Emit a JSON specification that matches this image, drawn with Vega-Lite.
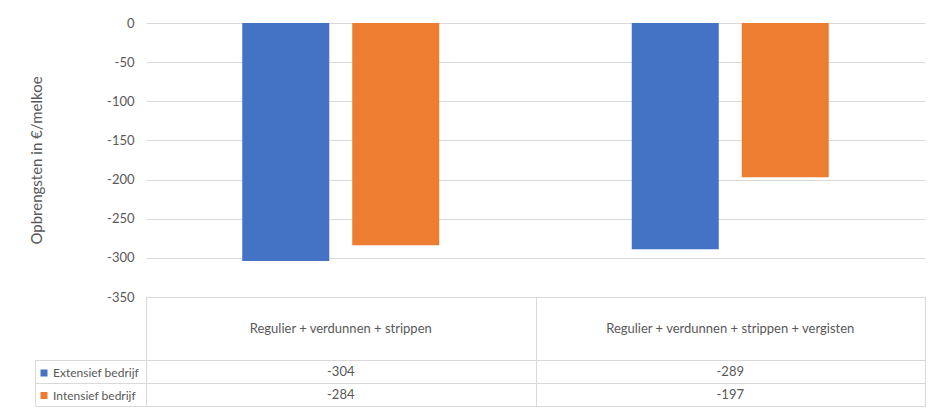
{
  "$schema": "https://vega.github.io/schema/vega-lite/v6.json",
  "padding": {"left": 29, "top": 17, "right": 0, "bottom": 0},
  "autosize": {"type": "pad"},
  "background": "white",
  "bounds": "flush",
  "config": {
    "font": "Lato",
    "locale": {"number": {"decimal": ",", "thousands": ".", "grouping": [3], "currency": ["€", ""], "minus": "-"}},
    "view": {"stroke": null},
    "axis": {"labelColor": "#595959", "titleColor": "#595959", "labelFont": "Lato", "titleFont": "Lato", "labelFontSize": 13},
    "text": {"color": "#595959", "font": "Lato", "fontSize": 13}
  },
  "datasets": {
    "opbrengsten": [
      {"scenario": "Regulier + verdunnen + strippen", "bedrijf": "Extensief bedrijf", "opbrengst": -304},
      {"scenario": "Regulier + verdunnen + strippen", "bedrijf": "Intensief bedrijf", "opbrengst": -284},
      {"scenario": "Regulier + verdunnen + strippen + vergisten", "bedrijf": "Extensief bedrijf", "opbrengst": -289},
      {"scenario": "Regulier + verdunnen + strippen + vergisten", "bedrijf": "Intensief bedrijf", "opbrengst": -197}
    ]
  },
  "spacing": 0,
  "vconcat": [
    {
      "width": 779,
      "height": 274,
      "data": {"name": "opbrengsten"},
      "mark": {"type": "bar"},
      "encoding": {
        "x": {"field": "scenario", "type": "nominal", "sort": null, "scale": {"paddingInner": 0, "paddingOuter": 0}, "axis": null},
        "xOffset": {"field": "bedrijf", "type": "nominal", "sort": null, "scale": {"paddingInner": 0.209, "paddingOuter": 0.875}},
        "y": {
          "field": "opbrengst", "type": "quantitative",
          "scale": {"domain": [-350, 0], "nice": false},
          "axis": {
            "values": [0, -50, -100, -150, -200, -250, -300, -350],
            "title": "Opbrengsten in €/melkoe",
            "titleFontSize": 15, "titleFontWeight": "normal", "titlePadding": 62,
            "grid": true, "gridColor": "#d9d9d9", "gridWidth": 1,
            "domain": false, "ticks": false, "tickSize": 0, "labelPadding": 12
          }
        },
        "color": {
          "field": "bedrijf", "type": "nominal", "sort": null,
          "scale": {"range": ["#4472C4", "#ED7D31"]},
          "legend": {
            "orient": "none", "legendX": -108, "legendY": 344, "title": null,
            "symbolType": "square", "symbolSize": 49, "symbolStrokeWidth": 0,
            "labelFontSize": 12, "labelColor": "#595959", "labelFont": "Lato",
            "labelOffset": 3, "rowPadding": 10.5
          }
        }
      }
    },
    {
      "width": 779,
      "height": 63,
      "data": {"name": "opbrengsten"},
      "transform": [{"aggregate": [{"op": "count", "as": "n"}], "groupby": ["scenario"]}],
      "view": {"stroke": "#d9d9d9"},
      "mark": {"type": "text", "baseline": "middle"},
      "encoding": {
        "x": {
          "field": "scenario", "type": "nominal", "sort": null,
          "scale": {"paddingInner": 0, "paddingOuter": 0},
          "axis": {"orient": "top", "grid": true, "gridColor": "#d9d9d9", "tickBand": "extent", "labels": false, "ticks": false, "domain": false, "title": null}
        },
        "text": {"field": "scenario"}
      }
    },
    {
      "width": 779,
      "height": 46,
      "data": {"name": "opbrengsten"},
      "view": {"stroke": "#d9d9d9"},
      "mark": {"type": "text", "baseline": "middle"},
      "encoding": {
        "x": {
          "field": "scenario", "type": "nominal", "sort": null,
          "scale": {"paddingInner": 0, "paddingOuter": 0},
          "axis": {"orient": "top", "grid": true, "gridColor": "#d9d9d9", "tickBand": "extent", "labels": false, "ticks": false, "domain": false, "title": null}
        },
        "y": {
          "field": "bedrijf", "type": "nominal", "sort": null,
          "scale": {"paddingInner": 0, "paddingOuter": 0},
          "axis": {
            "grid": true, "gridColor": "#d9d9d9", "tickBand": "extent",
            "labels": false, "title": null,
            "domain": true, "domainColor": "#d9d9d9",
            "ticks": true, "tickColor": "#d9d9d9", "tickSize": -111, "offset": 111
          }
        },
        "text": {"field": "opbrengst", "type": "quantitative"}
      }
    }
  ]
}
